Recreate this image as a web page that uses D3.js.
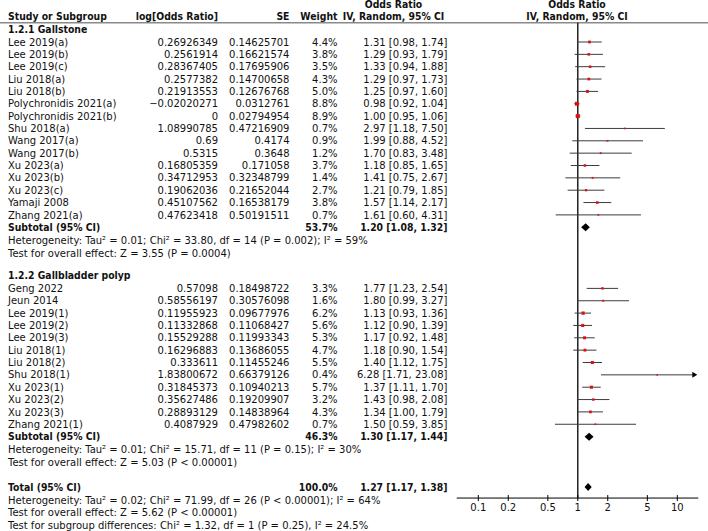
<!DOCTYPE html>
<html><head><meta charset="utf-8">
<script src="https://cdn.jsdelivr.net/npm/d3@7"></script>
<style>
body{margin:0;background:#fff;}
</style></head><body>
<svg id="c" width="708" height="531" font-family="DejaVu Sans" font-size="10"></svg>
<script>
// ---------- data ----------
const g1Names = ["Lee 2019(a)","Lee 2019(b)","Lee 2019(c)","Liu 2018(a)","Liu 2018(b)","Polychronidis 2021(a)","Polychronidis 2021(b)","Shu 2018(a)","Wang 2017(a)","Wang 2017(b)","Xu 2023(a)","Xu 2023(b)","Xu 2023(c)","Yamaji 2008","Zhang 2021(a)"];
const g1LogOR = [0.26926349,0.2561914,0.28367405,0.2577382,0.21913553,-0.02020271,0,1.08990785,0.69,0.5315,0.16805359,0.34712953,0.19062036,0.45107562,0.47623418];
const g1SE = [0.14625701,0.16621574,0.17695906,0.14700658,0.12676768,0.0312761,0.02794954,0.47216909,0.4174,0.3648,0.171058,0.32348799,0.21652044,0.16538179,0.50191511];
const g1Weight = [4.4,3.8,3.5,4.3,5.0,8.8,8.9,0.7,0.9,1.2,3.7,1.4,2.7,3.8,0.7];
const g1OR = [1.31,1.29,1.33,1.29,1.25,0.98,1.00,2.97,1.99,1.70,1.18,1.41,1.21,1.57,1.61];
const g1Lo = [0.98,0.93,0.94,0.97,0.97,0.92,0.95,1.18,0.88,0.83,0.85,0.75,0.79,1.14,0.60];
const g1Hi = [1.74,1.79,1.88,1.73,1.60,1.04,1.06,7.50,4.52,3.48,1.65,2.67,1.85,2.17,4.31];

const g2Names = ["Geng 2022","Jeun 2014","Lee 2019(1)","Lee 2019(2)","Lee 2019(3)","Liu 2018(1)","Liu 2018(2)","Shu 2018(1)","Xu 2023(1)","Xu 2023(2)","Xu 2023(3)","Zhang 2021(1)"];
const g2LogOR = [0.57098,0.58556197,0.11955923,0.11332868,0.15529288,0.16296883,0.333611,1.83800672,0.31845373,0.35627486,0.28893129,0.4087929];
const g2SE = [0.18498722,0.30576098,0.09677976,0.11068427,0.11993343,0.13686055,0.11455246,0.66379126,0.10940213,0.19209907,0.14838964,0.47982602];
const g2Weight = [3.3,1.6,6.2,5.6,5.3,4.7,5.5,0.4,5.7,3.2,4.3,0.7];
const g2OR = [1.77,1.80,1.13,1.12,1.17,1.18,1.40,6.28,1.37,1.43,1.34,1.50];
const g2Lo = [1.23,0.99,0.93,0.90,0.92,0.90,1.12,1.71,1.11,0.98,1.00,0.59];
const g2Hi = [2.54,3.27,1.36,1.39,1.48,1.54,1.75,23.08,1.70,2.08,1.79,3.85];

const groupTitles = ["1.2.1 Gallstone","1.2.2 Gallbladder polyp"];
const subWeight = [53.7,46.3];
const subOR = [1.20,1.30];
const subLo = [1.08,1.17];
const subHi = [1.32,1.44];
const subHet = ["Heterogeneity: Tau² = 0.01; Chi² = 33.80, df = 14 (P = 0.002); I² = 59%",
                "Heterogeneity: Tau² = 0.01; Chi² = 15.71, df = 11 (P = 0.15); I² = 30%"];
const subTest = ["Test for overall effect: Z = 3.55 (P = 0.0004)",
                 "Test for overall effect: Z = 5.03 (P < 0.00001)"];
const totalWeight = 100.0;
const totalOR = 1.27, totalLo = 1.17, totalHi = 1.38;
const totalLines = ["Heterogeneity: Tau² = 0.02; Chi² = 71.99, df = 26 (P < 0.00001); I² = 64%",
                    "Test for overall effect: Z = 5.62 (P < 0.00001)",
                    "Test for subgroup differences: Chi² = 1.32, df = 1 (P = 0.25), I² = 24.5%"];
const tickValues = [0.1,0.2,0.5,1,2,5,10];
const tickLabels = ["0.1","0.2","0.5","1","2","5","10"];

// ---------- layout ----------
const svg = d3.select("#c");
const xName = 8, xLog = 218, xSE = 289.5, xW = 337.5, xCI = 447.5, xCIhead = 393.5, xPlotHead = 577;
const plotLeft = 456.7, plotRight = 698.3;
const x = d3.scaleLog().domain([0.1,10]).range([478.3,677.3]);
const boldSqueeze = 0.93;

const groups = [
  {title:groupTitles[0], names:g1Names, lor:g1LogOR, se:g1SE, w:g1Weight, or:g1OR, lo:g1Lo, hi:g1Hi},
  {title:groupTitles[1], names:g2Names, lor:g2LogOR, se:g2SE, w:g2Weight, or:g2OR, lo:g2Lo, hi:g2Hi}
];
function txt(xx, yy, s, anchor, bold){
  const t = svg.append("text").attr("x",xx).attr("y",yy).attr("dy","0.36em")
    .attr("text-anchor",anchor||"start").attr("font-weight",bold?"bold":null)
    .attr("fill","#111").text(s);
  if (bold){
    const w = t.node().getComputedTextLength();
    t.attr("textLength", w*boldSqueeze).attr("lengthAdjust","spacingAndGlyphs");
  }
  return t;
}
const fmtNum = v => String(v).replace("-","\u2212");
const fmtCI = (o,l,h) => `${o.toFixed(2)} [${l.toFixed(2)}, ${h.toFixed(2)}]`;

txt(xCIhead, 4.7, "Odds Ratio", "middle", true);
txt(xPlotHead, 4.7, "Odds Ratio", "middle", true);
txt(xName, 16.7, "Study or Subgroup", "start", true);
txt(xLog, 16.7, "log[Odds Ratio]", "end", true);
txt(xSE, 16.7, "SE", "end", true);
txt(xW, 16.7, "Weight", "end", true);
txt(xCIhead, 16.7, "IV, Random, 95% CI", "middle", true);
txt(xPlotHead, 16.7, "IV, Random, 95% CI", "middle", true);
svg.append("line").attr("x1",0).attr("x2",708).attr("y1",22.7).attr("y2",22.7)
  .attr("stroke","#8a8a8a").attr("stroke-width",1.5);

const plot = svg.append("g");
const marks = svg.append("g");
function diamond(yy, o, l, h){
  const p = [[x(l),yy],[x(o),yy-4],[x(h),yy],[x(o),yy+4]];
  marks.append("path").attr("d","M"+p.join("L")+"Z").attr("fill","#000");
}
let y = 29;
groups.forEach((g,gi)=>{
  txt(xName, y, g.title, "start", true);
  y += 13;
  g.names.forEach((n,i)=>{
    txt(xName, y, n);
    txt(xLog, y, fmtNum(g.lor[i]), "end");
    txt(xSE, y, fmtNum(g.se[i]), "end");
    txt(xW, y, g.w[i].toFixed(1)+"%", "end");
    txt(xCI, y, fmtCI(g.or[i],g.lo[i],g.hi[i]), "end");
    const x1 = Math.max(x(g.lo[i]), plotLeft);
    const clipped = x(g.hi[i]) > plotRight - 2;
    const x2 = clipped ? plotRight - 5 : x(g.hi[i]);
    marks.append("line").attr("x1",x1).attr("x2",x2).attr("y1",y).attr("y2",y)
      .attr("stroke","#3c3c3c").attr("stroke-width",1);
    if (clipped){
      marks.append("path").attr("d",`M${plotRight-6},${y-3}L${plotRight-1},${y}L${plotRight-6},${y+3}Z`).attr("fill","#000");
    }
    const s = 1.5 + g.w[i]*0.28;
    marks.append("rect").attr("x",x(g.or[i])-s/2).attr("y",y-s/2).attr("width",s).attr("height",s)
      .attr("fill","#e01010");
    y += 12.35;
  });
  y += 0.05;
  txt(xName, y, "Subtotal (95% CI)", "start", true);
  txt(xW, y, subWeight[gi].toFixed(1)+"%", "end", true);
  txt(xCI, y, fmtCI(subOR[gi],subLo[gi],subHi[gi]), "end", true);
  diamond(y, subOR[gi], subLo[gi], subHi[gi]);
  y += 12.8;
  txt(xName, y, subHet[gi]);
  y += 12.9;
  txt(xName, y, subTest[gi]);
  y += (gi===0) ? 22.4 : 24.7;
});
txt(xName, y, "Total (95% CI)", "start", true);
txt(xW, y, totalWeight.toFixed(1)+"%", "end", true);
txt(xCI, y, fmtCI(totalOR,totalLo,totalHi), "end", true);
diamond(y, totalOR, totalLo, totalHi);
const axisY = y + 11;
y += 13;
totalLines.forEach(l=>{ txt(xName, y, l); y += 12.65; });

plot.append("line").attr("x1",x(1)).attr("x2",x(1)).attr("y1",22.7).attr("y2",axisY)
  .attr("stroke","#000").attr("stroke-width",1.3);
const ax = svg.append("g");
ax.append("line").attr("x1",plotLeft).attr("x2",plotRight).attr("y1",axisY).attr("y2",axisY)
  .attr("stroke","#000").attr("stroke-width",1);
tickValues.forEach((t,i)=>{
  ax.append("line").attr("x1",x(t)).attr("x2",x(t)).attr("y1",axisY-3).attr("y2",axisY+3)
    .attr("stroke","#000").attr("stroke-width",1);
  svg.append("text").attr("x",x(t)).attr("y",axisY+9).attr("dy","0.36em")
    .attr("text-anchor","middle").attr("fill","#111").text(tickLabels[i]);
});
</script></body></html>
